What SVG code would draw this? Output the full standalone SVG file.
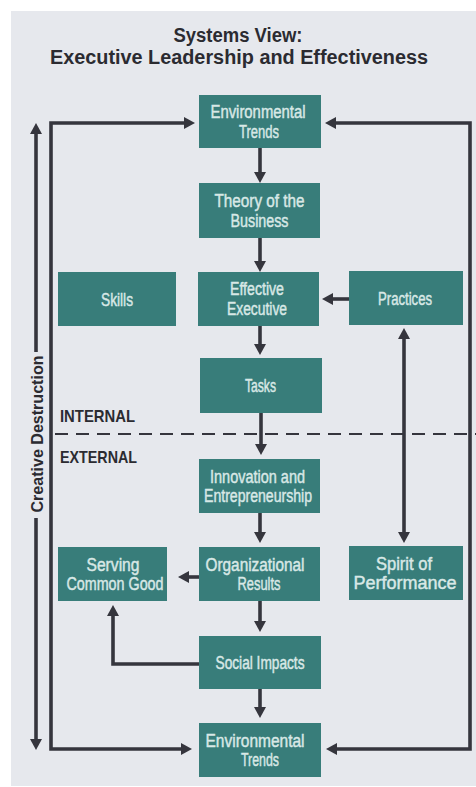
<svg xmlns="http://www.w3.org/2000/svg" width="476" height="787" viewBox="0 0 476 787">
  <style>
    .box { fill: #387d7a; }
    .lbl { font-family: "Liberation Sans", Arial, sans-serif; font-size: 18px; fill: #d8e8e6; stroke: #d8e8e6; stroke-width: 0.45; text-anchor: middle; }
    .head { font-family: "Liberation Sans", Arial, sans-serif; font-weight: bold; fill: #2b2b31; }
    .wire { fill: none; stroke: #35353d; stroke-width: 3.6; }
    .dash { fill: none; stroke: #35353d; stroke-width: 2; stroke-dasharray: 13 8; }
  </style>
  <defs>
    <marker id="arrow" markerUnits="userSpaceOnUse" markerWidth="12" markerHeight="12" refX="2" refY="6" orient="auto-start-reverse">
      <path d="M0,0 L11,6 L0,12 z" fill="#35353d"/>
    </marker>
  </defs>

  <!-- page -->
  <rect x="0" y="0" width="476" height="787" fill="#ffffff"/>
  <rect x="11" y="11" width="465" height="775" fill="#e6e8ed"/>

  <!-- title -->
  <text class="head" x="238" y="41.5" font-size="19.5" text-anchor="middle" textLength="129" lengthAdjust="spacingAndGlyphs">Systems View:</text>
  <text class="head" x="239" y="63.5" font-size="19.5" text-anchor="middle" textLength="378" lengthAdjust="spacingAndGlyphs">Executive Leadership and Effectiveness</text>

  <!-- internal / external boundary -->
  <line class="dash" x1="55" y1="434" x2="476" y2="434"/>
  <text class="head" x="60" y="422" font-size="17" textLength="75" lengthAdjust="spacingAndGlyphs">INTERNAL</text>
  <text class="head" x="60" y="462.5" font-size="17" textLength="77" lengthAdjust="spacingAndGlyphs">EXTERNAL</text>
  <text class="head" font-size="17" text-anchor="middle" transform="translate(43,434) rotate(-90)" textLength="157" lengthAdjust="spacingAndGlyphs">Creative Destruction</text>

  <!-- connectors -->
  <g id="connectors">
    <path class="wire" d="M186,123 H51 V749 H183" marker-start="url(#arrow)" marker-end="url(#arrow)"/>
    <path class="wire" d="M334,123 H470 V749 H335" marker-start="url(#arrow)" marker-end="url(#arrow)"/>
    <path class="wire" d="M36,132 V352" marker-start="url(#arrow)"/>
    <path class="wire" d="M36,518 V741" marker-end="url(#arrow)"/>
    <path class="wire" d="M260,148 V174" marker-end="url(#arrow)"/>
    <path class="wire" d="M260,238 V263" marker-end="url(#arrow)"/>
    <path class="wire" d="M260,326 V346" marker-end="url(#arrow)"/>
    <path class="wire" d="M261,413 V446" marker-end="url(#arrow)"/>
    <path class="wire" d="M260,513 V534" marker-end="url(#arrow)"/>
    <path class="wire" d="M260,601 V623" marker-end="url(#arrow)"/>
    <path class="wire" d="M260,689 V709" marker-end="url(#arrow)"/>
    <path class="wire" d="M349,299 H331" marker-end="url(#arrow)"/>
    <path class="wire" d="M199,577 H187" marker-end="url(#arrow)"/>
    <path class="wire" d="M199,664 H113 V614" marker-end="url(#arrow)"/>
    <path class="wire" d="M404,337 V534" marker-start="url(#arrow)" marker-end="url(#arrow)"/>
  </g>

  <!-- nodes -->
  <g id="env-trends-top">
    <rect class="box" x="199" y="95" width="122" height="53"/>
    <text class="lbl" x="258" y="118" textLength="95" lengthAdjust="spacingAndGlyphs">Environmental</text>
    <text class="lbl" x="259" y="137.5" textLength="40" lengthAdjust="spacingAndGlyphs">Trends</text>
  </g>
  <g id="theory">
    <rect class="box" x="199" y="183" width="121" height="55"/>
    <text class="lbl" x="259.5" y="207" textLength="90" lengthAdjust="spacingAndGlyphs">Theory of the</text>
    <text class="lbl" x="259.5" y="226.5" textLength="58" lengthAdjust="spacingAndGlyphs">Business</text>
  </g>
  <g id="skills">
    <rect class="box" x="58" y="272" width="118" height="54"/>
    <text class="lbl" x="117" y="305.5" textLength="32" lengthAdjust="spacingAndGlyphs">Skills</text>
  </g>
  <g id="effective-executive">
    <rect class="box" x="198" y="272" width="121" height="54"/>
    <text class="lbl" x="257" y="295" textLength="54" lengthAdjust="spacingAndGlyphs">Effective</text>
    <text class="lbl" x="257" y="315" textLength="60" lengthAdjust="spacingAndGlyphs">Executive</text>
  </g>
  <g id="practices">
    <rect class="box" x="349" y="271" width="114" height="54"/>
    <text class="lbl" x="405" y="304.5" textLength="54" lengthAdjust="spacingAndGlyphs">Practices</text>
  </g>
  <g id="tasks">
    <rect class="box" x="200" y="358" width="122" height="55"/>
    <text class="lbl" x="260.5" y="392" textLength="31" lengthAdjust="spacingAndGlyphs">Tasks</text>
  </g>
  <g id="innovation">
    <rect class="box" x="199" y="459" width="121" height="54"/>
    <text class="lbl" x="257.5" y="482.5" textLength="95" lengthAdjust="spacingAndGlyphs">Innovation and</text>
    <text class="lbl" x="258" y="502" textLength="108" lengthAdjust="spacingAndGlyphs">Entrepreneurship</text>
  </g>
  <g id="serving-common-good">
    <rect class="box" x="58" y="547" width="109" height="54"/>
    <text class="lbl" x="113" y="570.5" textLength="53" lengthAdjust="spacingAndGlyphs">Serving</text>
    <text class="lbl" x="115" y="590" textLength="97" lengthAdjust="spacingAndGlyphs">Common Good</text>
  </g>
  <g id="organizational-results">
    <rect class="box" x="199" y="547" width="121" height="54"/>
    <text class="lbl" x="255" y="570.5" textLength="99" lengthAdjust="spacingAndGlyphs">Organizational</text>
    <text class="lbl" x="259" y="590" textLength="43" lengthAdjust="spacingAndGlyphs">Results</text>
  </g>
  <g id="spirit-of-performance">
    <rect class="box" x="349" y="546" width="114" height="54"/>
    <text class="lbl" x="404" y="569.5" textLength="56" lengthAdjust="spacingAndGlyphs">Spirit of</text>
    <text class="lbl" x="405" y="589" textLength="103" lengthAdjust="spacingAndGlyphs">Performance</text>
  </g>
  <g id="social-impacts">
    <rect class="box" x="199" y="636" width="122" height="53"/>
    <text class="lbl" x="260" y="669" textLength="89" lengthAdjust="spacingAndGlyphs">Social Impacts</text>
  </g>
  <g id="env-trends-bottom">
    <rect class="box" x="199" y="723" width="122" height="54"/>
    <text class="lbl" x="255" y="746.5" textLength="99" lengthAdjust="spacingAndGlyphs">Environmental</text>
    <text class="lbl" x="260" y="766" textLength="38" lengthAdjust="spacingAndGlyphs">Trends</text>
  </g>
</svg>
